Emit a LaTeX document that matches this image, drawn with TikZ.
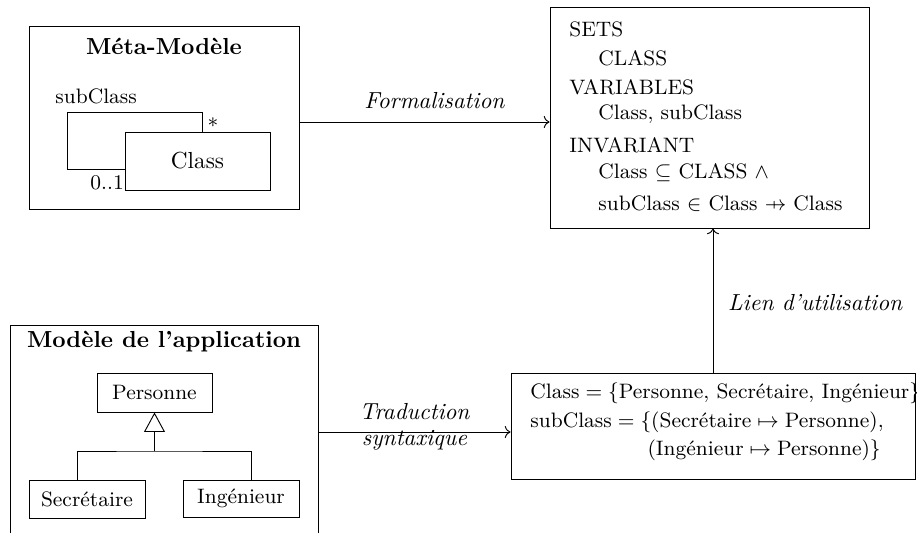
\documentclass[tikz,border=0pt]{standalone}
\usepackage{amsmath}
\usepackage{amssymb}
\usetikzlibrary{arrows.meta}

\newcommand{\pfun}{\mathrel{\ooalign{\hfil$\mapstochar\mkern5mu$\hfil\cr$\to$\cr}}}

\tikzset{
  box/.style 2 args={draw, inner sep=0pt, minimum width=#1*0.431pt, minimum height=#2*0.431pt},
  ttl/.style={font=\bfseries, anchor=base},
  lbl/.style={font=\itshape},
  txt/.style={inner sep=0pt, font=\small}
}

\begin{document}
\begin{tikzpicture}[x=0.431pt, y=-0.431pt]
\useasboundingbox (0,0) rectangle (917,533);
\clip (0,0) rectangle (917,533);

% meta-model
\node[box={270}{183}] (meta) at (164,117.5) {};
\node[ttl] (metattl) at (164,55) {Méta-Modèle};
\node[txt, anchor=base west] (subcl) at (55,104) {subClass};
\node[box={145}{58}] (cls) at (197.5,161) {Class};
\draw (cls.north east) ++(-68,0) -- ++(0,-19) -| ++(-135,57) -- ++(58,0);
\node[txt] (star) at (213,123) {$*$};
\node[txt, anchor=base west] (mult) at (90,190) {0..1};

% B machine
\node[box={319}{221}] (sets) at (709.5,117.5) {};
\node[txt, anchor=north west, align=left] (setstxt) at (569,21.8) {SETS\\[1.5pt]
  \hspace*{12.5pt}CLASS\\[1.1pt]
  VARIABLES\\
  \hspace*{12.5pt}Class, subClass\\[3.4pt]
  INVARIANT\\
  \hspace*{12.5pt}Class $\subseteq$ CLASS $\wedge$\\[2.6pt]
  \hspace*{12.5pt}subClass $\in$ Class $\pfun$ Class};

\draw[->] ([yshift=-1.94pt]meta.east) -- node[lbl, above=2pt, xshift=4.3pt] (formal) {Formalisation} ([yshift=-1.94pt]sets.west);

% application model
\node[box={308}{230}] (app) at (164,440) {};
\node[ttl] (appttl) at (164,348) {Modèle de l'application};
\node[box={115}{39}, font=\small] (pers) at (154.5,392.5) {Personne};
\node[box={116}{38}, font=\small] (secr) at (87,499) {Secrétaire};
\node[box={116}{37}, font=\small] (ing) at (241,498.5) {Ingénieur};
\coordinate (fork) at (154.5,451);
\draw ([xshift=-4.3pt]secr.north) |- (fork) -| ([xshift=4.3pt]ing.north);
\draw[-{Triangle[open, length=8.4pt, width=9pt]}] (fork) -- (pers.south);

% instance
\node[box={404}{106}] (inst) at (713,426) {};
\node[txt, anchor=north west, align=left] (insttxt) at (530,382.4) {$\text{Class} = \{\text{Personne, Secrétaire, Ingénieur}\}$\\[1.5pt]
  $\text{subClass} = \{(\text{Secrétaire} \mapsto \text{Personne}),$\\[1.1pt]
  \hspace*{50.5pt}$(\text{Ingénieur} \mapsto \text{Personne})\}$};

\coordinate (trad) at ([yshift=-2.6pt]inst.west);
\draw[->] (app.east |- trad) -- node[lbl, align=center, yshift=2.4pt] (tradlbl) {Traduction\\[-0.8pt]syntaxique} (trad);
\draw[->] (inst.north) -- node[lbl, right=3pt, yshift=-1pt] (lien) {Lien d'utilisation} (inst.north |- sets.south);

\end{tikzpicture}
\end{document}
